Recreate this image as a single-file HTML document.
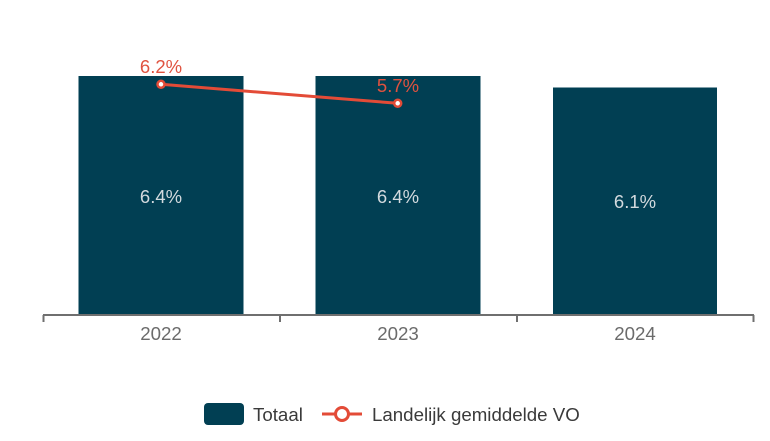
<!DOCTYPE html>
<html><head><meta charset="utf-8"><style>
html,body{margin:0;padding:0;background:#fff;}
svg{display:block;font-family:"Liberation Sans",Arial,sans-serif;}
</style></head><body>
<svg width="770" height="441" viewBox="0 0 770 441" xmlns="http://www.w3.org/2000/svg">
<rect width="770" height="441" fill="#fff"/>
<!-- bars -->
<rect x="78.5" y="76" width="165" height="239" fill="#013f53"/>
<rect x="315.5" y="76" width="165" height="239" fill="#013f53"/>
<rect x="553" y="87.5" width="164" height="227.5" fill="#013f53"/>
<!-- axis -->
<line x1="43" y1="315" x2="754" y2="315" stroke="#6f6f6f" stroke-width="2"/>
<line x1="43.5" y1="315" x2="43.5" y2="322" stroke="#6f6f6f" stroke-width="2"/>
<line x1="280" y1="315" x2="280" y2="322" stroke="#6f6f6f" stroke-width="2"/>
<line x1="517" y1="315" x2="517" y2="322" stroke="#6f6f6f" stroke-width="2"/>
<line x1="753.5" y1="315" x2="753.5" y2="322" stroke="#6f6f6f" stroke-width="2"/>
<g fill="#6b6b6b" font-size="18.7" text-anchor="middle">
<text x="161" y="340">2022</text>
<text x="398" y="340">2023</text>
<text x="635" y="340">2024</text>
</g>
<!-- bar labels -->
<g fill="#d3dade" font-size="18.5" text-anchor="middle">
<text x="161" y="203">6.4%</text>
<text x="398" y="203">6.4%</text>
<text x="635" y="208">6.1%</text>
</g>
<!-- line -->
<polyline points="161,84.3 397.7,103.3" fill="none" stroke="#e34b37" stroke-width="3"/>
<circle cx="161" cy="84.3" r="3.5" fill="#fff" stroke="#e34b37" stroke-width="2.5"/>
<circle cx="397.7" cy="103.3" r="3.5" fill="#fff" stroke="#e34b37" stroke-width="2.5"/>
<g fill="#e0523f" font-size="18.5" text-anchor="middle">
<text x="161" y="73">6.2%</text>
<text x="398" y="92">5.7%</text>
</g>
<!-- legend -->
<rect x="204" y="403" width="40" height="22" rx="4" fill="#013f53"/>
<text x="253" y="421" fill="#3a3a3a" font-size="18.7">Totaal</text>
<line x1="322" y1="414" x2="362" y2="414" stroke="#e34b37" stroke-width="3"/>
<circle cx="342" cy="414" r="6.5" fill="#fff" stroke="#e34b37" stroke-width="3"/>
<text x="372" y="421" fill="#3a3a3a" font-size="18.7">Landelijk gemiddelde VO</text>
</svg>
</body></html>
